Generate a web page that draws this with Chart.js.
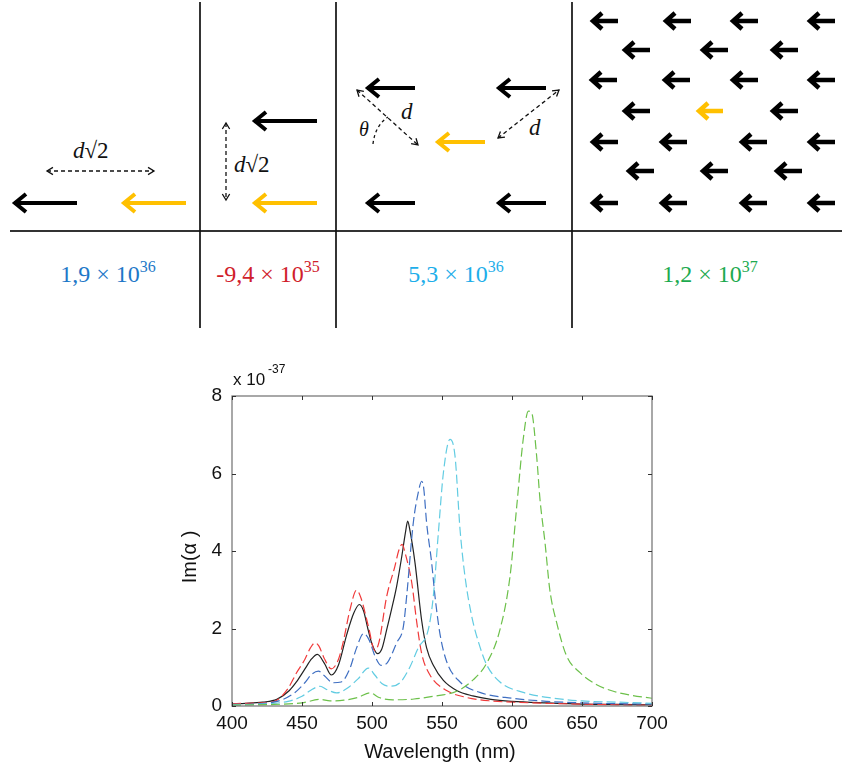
<!DOCTYPE html>
<html>
<head>
<meta charset="utf-8">
<script src="https://cdn.jsdelivr.net/npm/chart.js@4/dist/chart.umd.min.js"></script>
<style>
  html, body { margin:0; padding:0; background:#fff; }
  body { width:842px; height:766px; position:relative; overflow:hidden; }
  #diagram { position:absolute; left:0; top:0; }
  #chartBox { position:absolute; left:150px; top:360px; width:520px; height:406px; }
</style>
</head>
<body>
<svg id="diagram" width="842" height="335" xmlns="http://www.w3.org/2000/svg"></svg>
<div id="chartBox"><canvas id="c" width="520" height="406"></canvas></div>
<script>
// ---------------- data ----------------
const xTicks = [400, 450, 500, 550, 600, 650, 700];
const yTicks = [0, 2, 4, 6, 8];
const panelValues = ["1,9 × 10", "-9,4 × 10", "5,3 × 10", "1,2 × 10"];
const panelExponents = ["36", "35", "36", "37"];

const wlBlack = [400,410,422,432,441,446,452,457,461,466,471,476,482,487,491,494,497,500,504,507,510.5,514,517.6,521,524,525.5,527,530.7,535.5,539,543.8,551,560.5,572,585,600,625,650,675,700];
const imBlack = [0.06,0.07,0.1,0.17,0.4,0.62,0.95,1.22,1.33,1.1,0.8,1.05,1.85,2.4,2.62,2.45,2.0,1.6,1.35,1.47,1.97,2.5,3.09,3.8,4.5,4.77,4.55,3.7,2.2,1.5,1.05,0.66,0.4,0.26,0.17,0.12,0.08,0.05,0.04,0.03];

const wlRed = [400,410,422,432,440,446,452,456,459.3,462,466,471,476,479.3,484.3,489,492,497.4,502,505,510.5,516.4,519,521.5,524,528.4,532,535.5,541.4,553.3,567.6,585,600,625,650,675,700];
const imRed = [0.06,0.07,0.08,0.15,0.45,0.85,1.2,1.5,1.63,1.55,1.22,0.96,1.2,1.63,2.49,2.99,2.8,2.06,1.43,1.65,2.83,3.61,4.0,4.17,3.9,3.18,2.15,1.35,0.8,0.4,0.22,0.13,0.1,0.07,0.05,0.03,0.02];

const wlBlue = [400,420,435,445,452,457,461.7,466,472,478,484,489,494,498,502,506.5,511,517.6,522.4,524.8,529.5,533,535.5,537,539,542.6,545,548.6,553.3,562.9,577,600,625,650,675,700];
const imBlue = [0.04,0.06,0.15,0.35,0.6,0.82,0.9,0.78,0.6,0.62,0.95,1.5,1.87,1.7,1.3,1.05,1.12,1.63,2.05,2.85,4.73,5.5,5.8,5.6,4.73,3.7,2.83,1.85,1.15,0.62,0.35,0.2,0.12,0.08,0.06,0.05];

const wlCyan = [400,420,440,450,456,462.9,468,474.8,482,490,497.4,502,507,512.9,520,527,533,540.2,543.8,547.4,551,555.7,559.3,562.9,566.4,571.2,577,582.1,591.4,608,630,650,675,700];
const imCyan = [0.03,0.05,0.12,0.25,0.4,0.51,0.42,0.34,0.45,0.7,0.98,0.8,0.58,0.51,0.6,1.0,1.5,1.97,2.83,4.47,6.02,6.88,6.45,4.55,3.35,2.32,1.54,1.05,0.62,0.35,0.2,0.13,0.1,0.07];

const wlGreen = [400,430,450,463,470,480,490,498.6,505,515,530,543.8,560.5,572.4,582,591.4,598.6,603.4,608,611.7,614,617.6,620,623.6,627,631.9,639,648.6,660.5,672.4,686,700];
const imGreen = [0.02,0.04,0.08,0.17,0.13,0.15,0.22,0.34,0.22,0.16,0.18,0.25,0.38,0.68,1.11,1.97,3.35,5.16,6.88,7.61,7.57,6.45,5.33,4.21,3.0,2.15,1.29,0.86,0.55,0.38,0.27,0.2];

// ---------------- top diagram ----------------
const svg = document.getElementById('diagram');
const NS = 'http://www.w3.org/2000/svg';
function el(tag, attrs, parent) {
  const e = document.createElementNS(NS, tag);
  for (const k in attrs) e.setAttribute(k, attrs[k]);
  (parent || svg).appendChild(e);
  return e;
}
function arrow(xh, xt, y, color, lw, hl, hw) {
  el('path', { d: `M${xt},${y} L${xh + 2},${y} M${xh + hl},${y - hw} L${xh},${y} L${xh + hl},${y + hw}`,
    stroke: color, 'stroke-width': lw, fill: 'none', 'stroke-linejoin': 'miter', 'stroke-linecap': 'butt' });
}
function dashedDouble(x1, y1, x2, y2) {
  el('line', { x1, y1, x2, y2, stroke: '#111', 'stroke-width': 1.3, 'stroke-dasharray': '4,3' });
  const a = Math.atan2(y2 - y1, x2 - x1), s = 7, w = 0.55;
  const head = (x, y, ang) => {
    el('path', { d: `M${x + s * Math.cos(ang + w)},${y + s * Math.sin(ang + w)} L${x},${y} L${x + s * Math.cos(ang - w)},${y + s * Math.sin(ang - w)}`,
      stroke: '#111', 'stroke-width': 1.3, fill: 'none' });
  };
  head(x1, y1, a);
  head(x2, y2, a + Math.PI);
}
function mathText(x, y, parts, size) {
  const t = el('text', { x, y, 'font-family': 'Liberation Serif, DejaVu Serif, serif', 'font-size': size, fill: '#111' });
  parts.forEach(p => {
    const s = el('tspan', p.italic ? { 'font-style': 'italic' } : {}, t);
    s.textContent = p.t;
  });
  return t;
}

// frame lines
el('line', { x1: 10, y1: 231, x2: 842, y2: 231, stroke: '#333', 'stroke-width': 2 });
[200, 336, 572].forEach(x => el('line', { x1: x, y1: 2, x2: x, y2: 328, stroke: '#111', 'stroke-width': 1.7 }));

const BLK = '#000', YEL = '#FFC000';
// panel 1
arrow(15, 77, 203, BLK, 4, 11, 9);
arrow(124, 186, 203, YEL, 4, 11, 9);
dashedDouble(47, 171, 154, 171);
mathText(73, 158, [{ t: 'd', italic: true }, { t: '√2' }], 23);
// panel 2
arrow(255, 317, 121, BLK, 4, 11, 9);
arrow(255, 317, 203, YEL, 4, 11, 9);
dashedDouble(226, 123, 226, 200);
mathText(234, 172, [{ t: 'd', italic: true }, { t: '√2' }], 23);
// panel 3
arrow(368, 415, 88, BLK, 4, 11, 9);
arrow(368, 415, 203, BLK, 4, 11, 9);
arrow(499, 546, 88, BLK, 4, 11, 9);
arrow(499, 546, 203, BLK, 4, 11, 9);
arrow(438, 485, 142, YEL, 4, 11, 9);
dashedDouble(357, 90, 418, 145);
dashedDouble(498, 138, 559, 90);
mathText(401, 119, [{ t: 'd', italic: true }], 23);
mathText(529, 135, [{ t: 'd', italic: true }], 23);
mathText(359, 136, [{ t: 'θ', italic: true }], 20);
el('path', { d: 'M373,144 Q375,126 388,117', stroke: '#111', 'stroke-width': 1.3, fill: 'none', 'stroke-dasharray': '3,3' });
// panel 4 lattice
const lattice = [
  [21, [593, 666, 733, 810]],
  [50, [625, 703, 773]],
  [80, [592, 665, 733, 810]],
  [111, [625, 773]],
  [142, [593, 662, 742, 810]],
  [171, [629, 703, 777]],
  [203, [593, 662, 742, 810]]
];
lattice.forEach(([y, xs]) => xs.forEach(x => arrow(x, x + 25, y, BLK, 4.5, 9, 8)));
arrow(699, 723, 111, YEL, 4.5, 9, 8);

// value labels
const valColors = ['#1E78C8', '#D0202A', '#1DAEEA', '#1DAA4F'];
const valCenters = [108, 268, 456, 710];
panelValues.forEach((v, i) => {
  const t = el('text', { x: valCenters[i], y: 282, 'text-anchor': 'middle',
    'font-family': 'Liberation Serif, DejaVu Serif, serif', 'font-size': 24, fill: valColors[i] });
  const a = el('tspan', {}, t); a.textContent = v;
  const b = el('tspan', { dy: -10, 'font-size': 16 }, t); b.textContent = panelExponents[i];
});

// ---------------- chart ----------------
function pts(xs, ys) { return xs.map((x, i) => ({ x: x, y: ys[i] })); }

const frameTicks = {
  id: 'frameTicks',
  afterDatasetsDraw(chart) {
    const { ctx, chartArea: a, scales } = chart;
    ctx.save();
    ctx.strokeStyle = '#7a7a7a';
    ctx.lineWidth = 1.3;
    ctx.strokeRect(a.left, a.top, a.right - a.left, a.bottom - a.top);
    ctx.strokeStyle = '#333';
    ctx.lineWidth = 1;
    ctx.beginPath();
    xTicks.forEach(v => {
      const px = Math.round(scales.x.getPixelForValue(v)) + 0.5;
      ctx.moveTo(px, a.bottom); ctx.lineTo(px, a.bottom - 4);
      ctx.moveTo(px, a.top); ctx.lineTo(px, a.top + 4);
    });
    yTicks.forEach(v => {
      const py = Math.round(scales.y.getPixelForValue(v)) + 0.5;
      ctx.moveTo(a.left, py); ctx.lineTo(a.left + 4, py);
      ctx.moveTo(a.right, py); ctx.lineTo(a.right - 4, py);
    });
    ctx.stroke();
    // texts
    ctx.fillStyle = '#111';
    ctx.font = '20px "Liberation Sans", Arial, sans-serif';
    ctx.textAlign = 'center';
    ctx.textBaseline = 'alphabetic';
    ctx.fillText('Wavelength (nm)', (a.left + a.right) / 2 - 2, 398);
    ctx.save();
    ctx.translate(46, 197);
    ctx.rotate(-Math.PI / 2);
    ctx.fillText('Im(α )', 0, 0);
    ctx.restore();
    ctx.textAlign = 'left';
    ctx.font = '17px "Liberation Sans", Arial, sans-serif';
    ctx.fillText('x 10', a.left + 1, 25);
    ctx.font = '12px "Liberation Sans", Arial, sans-serif';
    ctx.fillText('-37', a.left + 36, 13);
    ctx.restore();
  }
};

const dash = [9, 4];
new Chart(document.getElementById('c'), {
  type: 'scatter',
  data: {
    datasets: [
      { label: 'green', data: pts(wlGreen, imGreen), borderColor: '#6CC04A', borderDash: dash },
      { label: 'cyan', data: pts(wlCyan, imCyan), borderColor: '#62CCE2', borderDash: dash },
      { label: 'blue', data: pts(wlBlue, imBlue), borderColor: '#3F6FC2', borderDash: dash },
      { label: 'red', data: pts(wlRed, imRed), borderColor: '#F03A3A', borderDash: dash },
      { label: 'black', data: pts(wlBlack, imBlack), borderColor: '#222222', borderDash: [] }
    ].map(d => Object.assign(d, { showLine: true, pointRadius: 0, borderWidth: 1.2, cubicInterpolationMode: 'monotone', fill: false }))
  },
  options: {
    responsive: false,
    animation: false,
    devicePixelRatio: 1,
    layout: { padding: { top: 36, right: 18, left: 0, bottom: 0 } },
    plugins: { legend: { display: false }, tooltip: { enabled: false } },
    scales: {
      x: {
        type: 'linear', min: 400, max: 700,
        afterFit(s) { s.height = 60; s.paddingLeft = 0; s.paddingRight = 0; },
        afterBuildTicks(s) { s.ticks = xTicks.map(v => ({ value: v })); },
        grid: { display: false, drawTicks: false },
        border: { display: false },
        ticks: { padding: 6, color: '#111', font: { family: 'Liberation Sans', size: 19 } }
      },
      y: {
        type: 'linear', min: 0, max: 8,
        afterFit(s) { s.width = 82; s.paddingTop = 0; s.paddingBottom = 0; },
        afterBuildTicks(s) { s.ticks = yTicks.map(v => ({ value: v })); },
        grid: { display: false, drawTicks: false },
        border: { display: false },
        ticks: { padding: 10, color: '#111', font: { family: 'Liberation Sans', size: 19 } }
      }
    }
  },
  plugins: [frameTicks]
});
</script>
</body>
</html>
